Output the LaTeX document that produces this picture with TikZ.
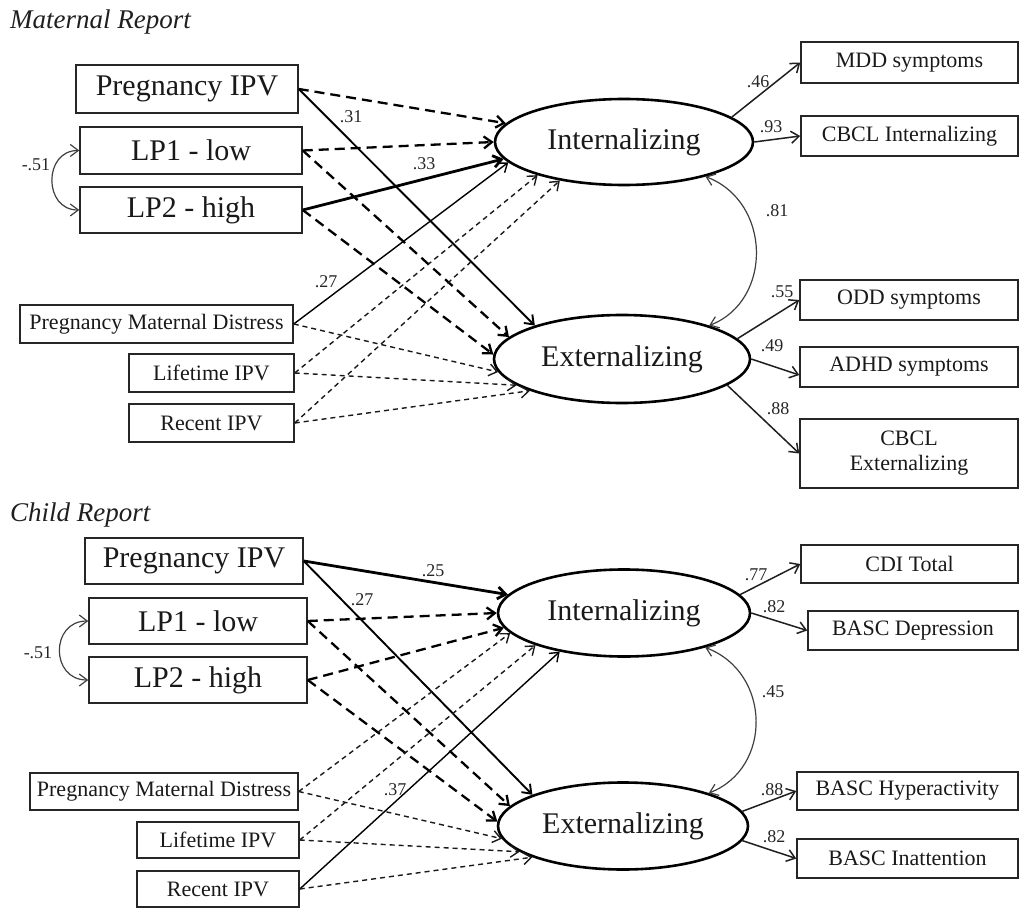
\documentclass[tikz,border=0pt]{standalone}
\usepackage{fontspec}
\setmainfont{Liberation Serif}
\usetikzlibrary{arrows.meta,shapes.geometric}
\begin{document}
\begin{tikzpicture}[x=1pt,y=-1pt,
  box/.style={draw=black!85, line width=1.5pt, inner sep=0pt, align=center, text=black!90},
  bigbox/.style={box, font=\fontsize{30}{32}\selectfont},
  smallbox/.style={box, font=\fontsize{22}{25}\selectfont},
  latent/.style={ellipse, draw=black, line width=2.6pt, inner sep=0pt, text=black!90, font=\fontsize{30}{32}\selectfont},
  lbl/.style={font=\fontsize{18}{20}\selectfont, text=black!85, inner sep=0pt},
  ttl/.style={font=\fontsize{27}{29}\selectfont\itshape, text=black!88, inner sep=0pt, anchor=west},
  tip/.style={-{Straight Barb[length=8pt,width=12pt]}},
  dtip/.style={{Straight Barb[length=8pt,width=12pt]}-{Straight Barb[length=8pt,width=12pt]}},
  thickdash/.style={tip, line width=2.3pt, dash pattern=on 10pt off 6pt},
  thindash/.style={tip, line width=1.4pt, dash pattern=on 5pt off 4pt, draw=black!90},
  thicksolid/.style={tip, line width=2.8pt},
  medsolid/.style={tip, line width=1.9pt},
  thinsolid/.style={tip, line width=1.4pt},
  load/.style={tip, line width=1.5pt, draw=black!88},
  corr/.style={dtip, line width=1.2pt, draw=black!75}
]
\useasboundingbox (0,0) rectangle (1020,909);

% ================= Maternal report =================
\node[ttl] (t1) at (10,22) {Maternal Report};

\node[bigbox, minimum width=222pt, minimum height=48pt] (preg1) at (187,89) {Pregnancy IPV};
\node[bigbox, minimum width=222pt, minimum height=47pt] (lp1a) at (191,150.5) {LP1 - low};
\node[bigbox, minimum width=222pt, minimum height=46pt] (lp2a) at (191,210) {LP2 - high};
\node[smallbox, minimum width=273pt, minimum height=38pt] (pmd1) at (156.5,324) {Pregnancy Maternal Distress};
\node[smallbox, minimum width=165pt, minimum height=38pt] (life1) at (211.5,373) {Lifetime IPV};
\node[smallbox, minimum width=165pt, minimum height=38pt] (rec1) at (211.5,423) {Recent IPV};

\node[latent, minimum width=258pt, minimum height=86pt] (int1) at (624,142) {Internalizing};
\node[latent, minimum width=256pt, minimum height=88pt] (ext1) at (622,359) {Externalizing};

\node[smallbox, minimum width=217pt, minimum height=41pt] (mdd) at (909.5,62.5) {MDD symptoms};
\node[smallbox, minimum width=217pt, minimum height=40pt] (cbcli) at (909.5,136) {CBCL Internalizing};
\node[smallbox, minimum width=218pt, minimum height=40pt] (odd) at (909,300) {ODD symptoms};
\node[smallbox, minimum width=218pt, minimum height=40pt] (adhd) at (909,367) {ADHD symptoms};
\node[smallbox, minimum width=218pt, minimum height=69pt] (cbcle) at (909,453.5) {CBCL\\Externalizing};

% paths
\draw[thickdash] (preg1.east) -- (int1.171);
\draw[medsolid] (preg1.east) -- (ext1.159);
\draw[thickdash] (lp1a.east) -- (int1.180);
\draw[thickdash] (lp1a.east) -- (ext1.169);
\draw[thicksolid] (lp2a.east) -- (int1.188);
\draw[thickdash] (lp2a.east) -- (ext1.178);
\draw[thinsolid] (pmd1.east) -- (int1.190);
\draw[thindash] (pmd1.east) -- (ext1.186);
\draw[thindash] (life1.east) -- (int1.201);
\draw[thindash] (life1.east) -- (ext1.194);
\draw[thindash] (rec1.east) -- (int1.211);
\draw[thindash] (rec1.east) -- (ext1.199);

\draw[corr] (lp1a.west) .. controls +(-36,0) and +(-36,0) .. (lp2a.west);
\draw[corr] (int1.337) .. controls +(66,25) and +(64,-25) .. (ext1.21);

\coordinate (adhdin) at ([yshift=-8pt]adhd.west);
\draw[load] (int1.13) -- (mdd.west);
\draw[load] (int1.0) -- (cbcli.west);
\draw[load] (ext1.10) -- (odd.west);
\draw[load] (ext1.0) -- (adhdin);
\draw[load] (ext1.-14) -- (cbcle.west);

\node[lbl] (l31) at (351,117) {.31};
\node[lbl] (l33) at (424,164) {.33};
\node[lbl] (l27) at (326,282) {.27};
\node[lbl] (l51a) at (36,165) {-.51};
\node[lbl] (l46) at (758,82) {.46};
\node[lbl] (l93) at (771,127) {.93};
\node[lbl] (l81) at (777,211) {.81};
\node[lbl] (l55) at (782,292) {.55};
\node[lbl] (l49) at (772,346) {.49};
\node[lbl] (l88a) at (778,409) {.88};

% ================= Child report =================
\node[ttl] (t2) at (10,515) {Child Report};

\node[bigbox, minimum width=218pt, minimum height=46pt] (preg2) at (194,561) {Pregnancy IPV};
\node[bigbox, minimum width=218pt, minimum height=46pt] (lp1b) at (198,621) {LP1 - low};
\node[bigbox, minimum width=218pt, minimum height=46pt] (lp2b) at (198,680) {LP2 - high};
\node[smallbox, minimum width=268pt, minimum height=37pt] (pmd2) at (164,791.5) {Pregnancy Maternal Distress};
\node[smallbox, minimum width=162pt, minimum height=36pt] (life2) at (218,840) {Lifetime IPV};
\node[smallbox, minimum width=162pt, minimum height=36pt] (rec2) at (218,889) {Recent IPV};

\node[latent, minimum width=252pt, minimum height=87pt] (int2) at (624,613) {Internalizing};
\node[latent, minimum width=250pt, minimum height=87pt] (ext2) at (623,826) {Externalizing};

\node[smallbox, minimum width=217pt, minimum height=38pt] (cdi) at (909.5,564) {CDI Total};
\node[smallbox, minimum width=210pt, minimum height=39pt] (bdep) at (913,630.5) {BASC Depression};
\node[smallbox, minimum width=221pt, minimum height=38pt] (bhyp) at (907.5,791) {BASC Hyperactivity};
\node[smallbox, minimum width=221pt, minimum height=39pt] (binat) at (907.5,858.5) {BASC Inattention};

\draw[thicksolid] (preg2.east) -- (int2.171);
\draw[medsolid] (preg2.east) -- (ext2.161);
\draw[thickdash] (lp1b.east) -- (int2.180);
\draw[thickdash] (lp1b.east) -- (ext2.170);
\draw[thickdash] (lp2b.east) -- (int2.187);
\draw[thickdash] (lp2b.east) -- (ext2.178);
\draw[thindash] (pmd2.east) -- (int2.190);
\draw[thindash] (pmd2.east) -- (ext2.186);
\draw[thindash] (life2.east) -- (int2.200);
\draw[thindash] (life2.east) -- (ext2.194);
\draw[thinsolid] (rec2.east) -- (int2.211);
\draw[thindash] (rec2.east) -- (ext2.199);

\draw[corr] (lp1b.west) .. controls +(-38,0) and +(-38,0) .. (lp2b.west);
\draw[corr] (int2.337) .. controls +(66,25) and +(64,-25) .. (ext2.21);

\draw[load] (int2.9) -- (cdi.west);
\draw[load] (int2.0) -- (bdep.west);
\draw[load] (ext2.7) -- (bhyp.west);
\draw[load] (ext2.-7) -- (binat.west);

\node[lbl] (l25) at (433,571) {.25};
\node[lbl] (l27b) at (362,600) {.27};
\node[lbl] (l51b) at (38,653) {-.51};
\node[lbl] (l37) at (395,790) {.37};
\node[lbl] (l77) at (756,575) {.77};
\node[lbl] (l82a) at (774,607) {.82};
\node[lbl] (l45) at (773,692) {.45};
\node[lbl] (l88b) at (772,790) {.88};
\node[lbl] (l82b) at (774,837) {.82};
\end{tikzpicture}
\end{document}
